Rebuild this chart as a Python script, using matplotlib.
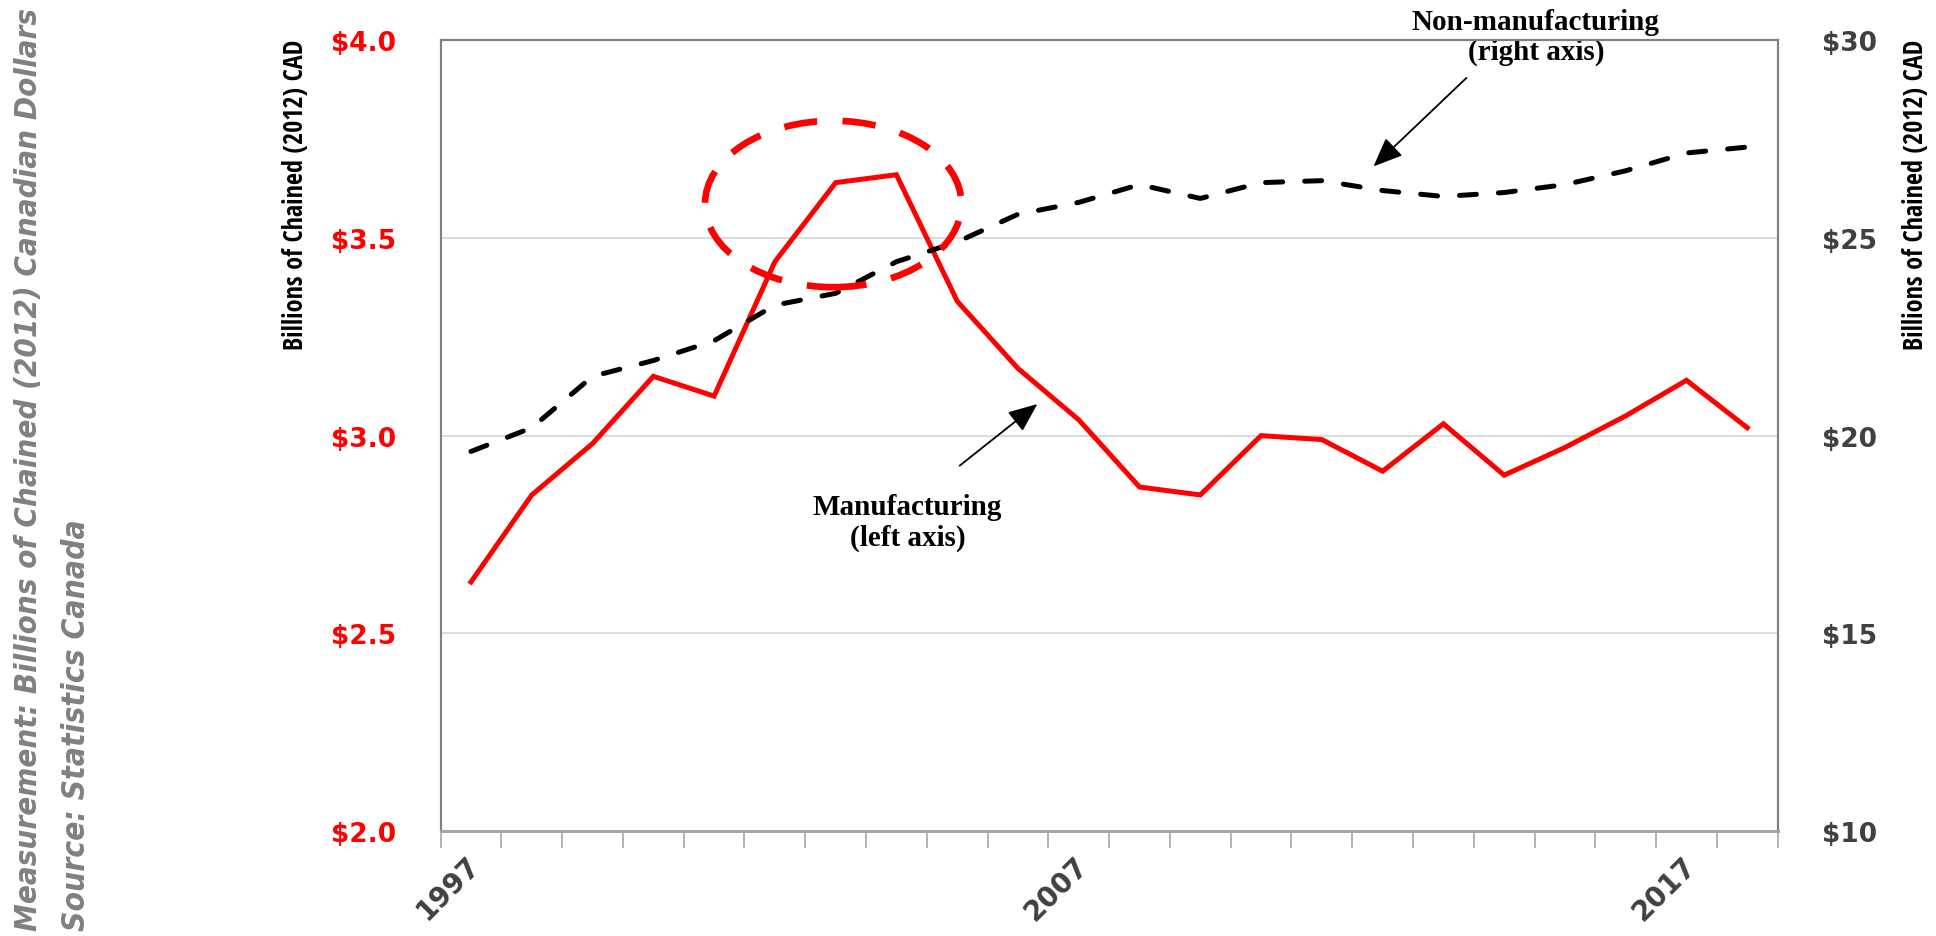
import matplotlib
matplotlib.use("Agg")
import matplotlib.pyplot as plt
from matplotlib.patches import Ellipse
from matplotlib.transforms import ScaledTranslation
from matplotlib import font_manager

years = list(range(1997, 2019))
year_labels = ["1997", "2007", "2017"]

# Billions of chained (2012) CAD
manufacturing = [2.63, 2.85, 2.98, 3.15, 3.10, 3.44, 3.64, 3.66, 3.34, 3.17, 3.04, 2.87,
                 2.85, 3.00, 2.99, 2.91, 3.03, 2.90, 2.97, 3.05, 3.14, 3.02]
non_manufacturing = [19.6, 20.2, 21.5, 21.9, 22.4, 23.3, 23.6, 24.4, 24.9, 25.6, 25.9, 26.35,
                     26.0, 26.4, 26.45, 26.2, 26.05, 26.15, 26.35, 26.7, 27.15, 27.3]

left_ticks = [2.0, 2.5, 3.0, 3.5, 4.0]
right_ticks = [10, 15, 20, 25, 30]

# look for a narrow sans for the axis titles (Calibri-like in the original)
narrow, stretch = "Roboto", "normal"
ttf = font_manager.fontManager.ttflist


def is_narrow(f):
    return ("Narrow" in f.name or "Condensed" in f.name
            or str(f.stretch) in ("condensed", "semi-condensed", "extra-condensed"))


cands = [(f.name, f.stretch) for f in ttf if is_narrow(f)]
for pref in ("Liberation Sans Narrow", "Open Sans Condensed", "DejaVu Sans"):
    hit = [c for c in cands if c[0].startswith(pref)]
    if hit:
        narrow, stretch = hit[0]
        break
else:
    if cands:
        narrow, stretch = cands[0]

# an italic narrow face for the side note, if there is a bold one
note_font, note_stretch, note_style = narrow, stretch, "italic"
ital = [f for f in ttf if is_narrow(f) and f.style in ("italic", "oblique")
        and (f.weight in ("bold", "semibold") or (isinstance(f.weight, int) and f.weight >= 600))]
if ital:
    note_font, note_stretch = ital[0].name, ital[0].stretch
serif = "Liberation Serif"

fig = plt.figure(figsize=(19.36, 9.37), dpi=100)
ax = fig.add_axes([0.2276, 0.1121, 0.6906, 0.8438])
ax2 = ax.twinx()

x = list(range(len(years)))
ax.plot(x, manufacturing, color="#ff0000", lw=3.6, solid_joinstyle="miter", zorder=3)
ax2.plot(x, non_manufacturing, color="black", lw=3.6, linestyle=(0, (3.4, 4.4)),
         dash_capstyle="round", zorder=3)

ax.set_xlim(-0.5, len(years) - 0.5)
ax.set_ylim(2.0, 4.0)
ax2.set_ylim(10, 30)

ax.set_yticks(left_ticks)
ax.set_yticklabels(["$%.1f" % v for v in left_ticks])
for v in left_ticks[1:-1]:
    ax.axhline(v, color="#d9d9d9", lw=1.3, zorder=1)
ax2.set_yticks(right_ticks)
ax2.set_yticklabels(["$%d" % v for v in right_ticks])

ax.tick_params(axis="y", length=0, pad=32, labelsize=19, labelcolor="#ff0000")
ax2.tick_params(axis="y", length=0, pad=32, labelsize=19, labelcolor="#404040")
for t in ax.get_yticklabels() + ax2.get_yticklabels():
    t.set_fontweight("bold")

# category axis: ticks between years, labels on a few years
lab_pos = [years.index(int(y)) for y in year_labels]
ax.set_xticks(lab_pos)
ax.set_xticklabels(year_labels, rotation=45, ha="right", va="top")
ax.set_xticks([i - 0.5 for i in range(len(years) + 1)], minor=True)
ax.tick_params(axis="x", which="major", length=0, pad=14, labelsize=20, labelcolor="#404040")
ax.tick_params(axis="x", which="minor", length=12, width=1.2, color="#a6a6a6", direction="out")
shift = ScaledTranslation(15 / 100, 0, fig.dpi_scale_trans)
for t in ax.get_xticklabels():
    t.set_fontweight("bold")
    t.set_transform(t.get_transform() + shift)
ax2.tick_params(axis="x", which="both", length=0)

for a in (ax, ax2):
    for s in ("left", "right", "top"):
        a.spines[s].set_color("#808080")
        a.spines[s].set_linewidth(1.5)
    a.spines["bottom"].set_color("#a6a6a6")
    a.spines["bottom"].set_linewidth(2.0)

# highlight of the peak
ell = Ellipse((5.96, 3.586), 4.22, 0.421, transform=ax.transData, fill=False,
              edgecolor="#ff0000", lw=4.8, linestyle=(0, (5.0, 3.8)), zorder=5)
ax2.add_patch(ell)

# annotations
ax.text(17.52, 4.01, "Non-manufacturing\n(right axis)", ha="center", va="center",
        fontsize=21, fontweight="bold", family=serif, linespacing=1.15, clip_on=False)
ax.annotate("", xy=(14.85, 3.681), xytext=(16.38, 3.905), annotation_clip=False,
            arrowprops=dict(arrowstyle="-|>,head_length=0.6,head_width=0.25", color="black",
                            lw=1.3, mutation_scale=30, shrinkA=0, shrinkB=0))
ax.text(7.18, 2.782, "Manufacturing\n(left axis)", ha="center", va="center",
        fontsize=21, fontweight="bold", family=serif, linespacing=1.15)
ax.annotate("", xy=(9.32, 3.080), xytext=(8.04, 2.924),
            arrowprops=dict(arrowstyle="-|>,head_length=0.6,head_width=0.25", color="black",
                            lw=1.3, mutation_scale=30, shrinkA=0, shrinkB=0))

# axis titles and side note, sized to the lengths they take in the original
W, H = 1936, 937
texts = [
    (fig.text(296 / W, 1 - 195 / H, "Billions of Chained (2012) CAD", rotation=90,
              ha="center", va="center", fontweight="bold", color="black"),
     308, narrow, stretch, "normal"),
    (fig.text(1915 / W, 1 - 195 / H, "Billions of Chained (2012) CAD", rotation=90,
              ha="center", va="center", fontweight="bold", color="black"),
     308, narrow, stretch, "normal"),
    (fig.text(29 / W, 6 / H, "Measurement: Billions of Chained (2012) Canadian Dollars",
              rotation=90, ha="center", va="bottom", fontweight="bold", color="#808080"),
     920, note_font, note_stretch, note_style),
    (fig.text(77 / W, 6 / H, "Source: Statistics Canada", rotation=90, ha="center",
              va="bottom", fontweight="bold", color="#808080"),
     412, note_font, note_stretch, note_style),
]
renderer = fig.canvas.get_renderer()
for t, target, fam, stch, sty in texts:
    t.set_family([fam, "DejaVu Sans"])
    t.set_fontstretch(stch)
    t.set_fontstyle(sty)
    t.set_fontsize(20)
    length = t.get_window_extent(renderer).height
    t.set_fontsize(20 * target / length)

fig.savefig("out.png", dpi=100)
